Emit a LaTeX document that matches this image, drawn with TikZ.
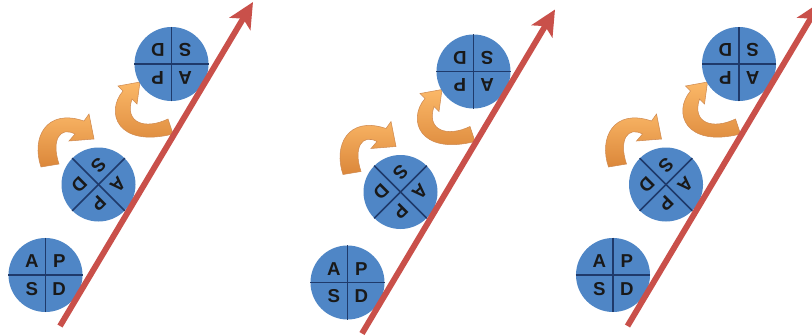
\documentclass[tikz,border=0pt]{standalone}
\usepackage{fontspec}
\setmainfont{Liberation Sans}
\usetikzlibrary{arrows.meta}
\definecolor{discblue}{HTML}{4F86C6}
\definecolor{quadline}{HTML}{1F3A6B}
\definecolor{redline}{HTML}{C9504A}
\definecolor{orlight}{HTML}{FBB868}
\definecolor{ordark}{HTML}{DB873A}
\definecolor{oredge}{HTML}{D08A50}
\tikzset{
 disc/.style={circle, fill=discblue, minimum size=55.5pt, inner sep=0pt},
 quad/.style={draw=quadline, line width=1.1pt},
 letter/.style={font=\bfseries\fontsize{14}{16}\selectfont, text=black!90, inner sep=0pt},
 redarrow/.style={draw=redline, line width=4.4pt, -{Stealth[length=19pt,width=18pt,inset=4.5pt]}},
 orarrow/.style={top color=orlight, bottom color=ordark, draw=oredge, line width=0.4pt},
}
\newcommand\pdsadisc[3]{%
 \begin{scope}[shift={#2}, rotate=#3, transform shape]
  \node[disc] (#1) at (0,0) {};
  \draw[quad] (#1.north) -- (#1.south);
  \draw[quad] (#1.west) -- (#1.east);
  \node[letter] (#1A) at (-10.3pt,10.3pt) {A};
  \node[letter] (#1P) at (10.3pt,10.3pt) {P};
  \node[letter] (#1S) at (-10.3pt,-10.3pt) {S};
  \node[letter] (#1D) at (10.3pt,-10.3pt) {D};
 \end{scope}}
\newcommand\pdsapanel[2]{%
 \begin{scope}[shift={#2}]
  \path[orarrow] (41,167) .. controls (31,138) and (46,108) .. (84,121) -- (89,114) -- (94,139) -- (69,141) -- (75,134) .. controls (60,126) and (51,140) .. (59,164) -- cycle;
  \path[orarrow] (173,134) .. controls (117,148) and (105,112) .. (123,91) -- (118,86) -- (140,82) -- (137,104) -- (132,99) .. controls (124,123) and (145,130) .. (168,119) -- cycle;
  \pdsadisc{#1a}{(45.5,275)}{0}
  \pdsadisc{#1b}{(98.5,184.5)}{-135}
  \pdsadisc{#1c}{(171.5,64)}{180}
  \coordinate (#1s) at (60,326);
  \coordinate (#1e) at (253,2);
  \draw[redarrow] (#1s) -- (#1e);
 \end{scope}}
\begin{document}
\begin{tikzpicture}[x=0.75pt,y=-0.75pt]
\useasboundingbox (0,0) rectangle (812,335);
\clip (0,0) rectangle (812,335);
\fill[white] (0,0) rectangle (812,335);
\pdsapanel{p1}{(0,0)}
\pdsapanel{p2}{(302,7.5)}
\pdsapanel{p3}{(567.5,0)}
\end{tikzpicture}
\end{document}
